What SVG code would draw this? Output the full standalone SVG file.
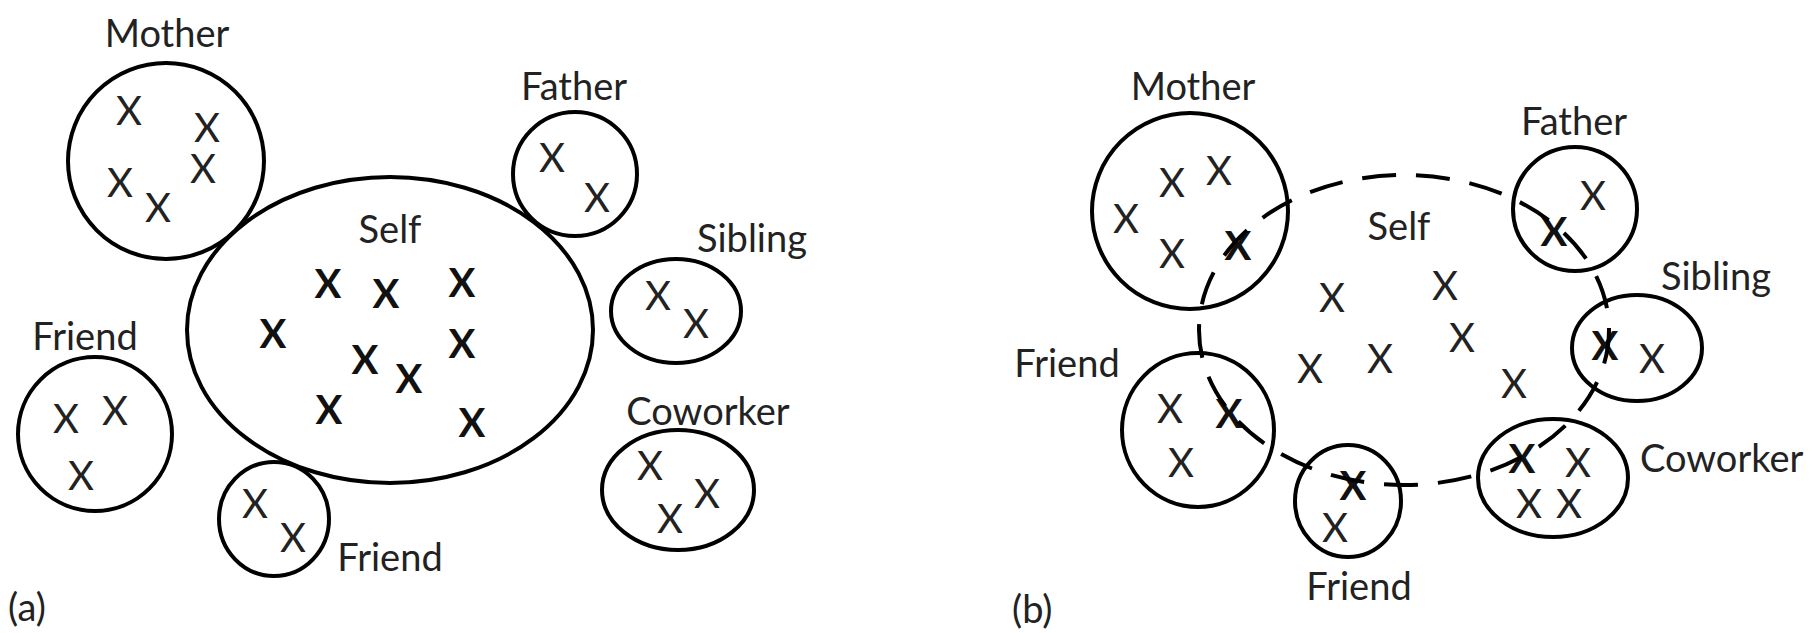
<svg xmlns="http://www.w3.org/2000/svg" width="1814" height="633" viewBox="0 0 1814 633">
<style>
.c{fill:none;stroke:#000;stroke-width:4}
.d{fill:none;stroke:#000;stroke-width:4;stroke-dasharray:34 20}
.l{font-family:Lato,"Open Sans",sans-serif;font-size:38px;fill:#222;text-anchor:middle}
.x{font-family:Lato,"Open Sans",sans-serif;font-size:40px;fill:#222;text-anchor:middle}
.b{font-family:Lato,"Open Sans",sans-serif;font-size:40px;font-weight:bold;fill:#111;text-anchor:middle}
</style>
<rect width="1814" height="633" fill="#fff"/>
<g id="panel-a">
<g id="a-self">
<ellipse class="c" cx="390" cy="330" rx="203" ry="153"/>
<text class="l" x="390" y="243">Self</text>
<text class="b" x="328" y="298">X</text>
<text class="b" x="386" y="308">X</text>
<text class="b" x="462" y="297">X</text>
<text class="b" x="273" y="348">X</text>
<text class="b" x="365" y="374">X</text>
<text class="b" x="409" y="393">X</text>
<text class="b" x="462" y="358">X</text>
<text class="b" x="329" y="424">X</text>
<text class="b" x="472" y="437">X</text>
</g>
<g id="a-mother">
<circle class="c" cx="166" cy="161" r="98"/>
<text class="l" x="167" y="47">Mother</text>
<text class="x" x="129" y="125">X</text>
<text class="x" x="207" y="142">X</text>
<text class="x" x="203" y="183">X</text>
<text class="x" x="120" y="197">X</text>
<text class="x" x="158" y="222">X</text>
</g>
<g id="a-father">
<circle class="c" cx="575" cy="174" r="62"/>
<text class="l" x="574" y="100">Father</text>
<text class="x" x="552" y="172">X</text>
<text class="x" x="597" y="212">X</text>
</g>
<g id="a-sibling">
<ellipse class="c" cx="676" cy="311" rx="65" ry="52"/>
<text class="l" x="752" y="252">Sibling</text>
<text class="x" x="658" y="310">X</text>
<text class="x" x="696" y="338">X</text>
</g>
<g id="a-coworker">
<ellipse class="c" cx="678" cy="490" rx="76" ry="60"/>
<text class="l" x="708" y="425">Coworker</text>
<text class="x" x="650" y="480">X</text>
<text class="x" x="707" y="508">X</text>
<text class="x" x="670" y="533">X</text>
</g>
<g id="a-friend1">
<circle class="c" cx="95" cy="434" r="77"/>
<text class="l" x="85" y="350">Friend</text>
<text class="x" x="66" y="433">X</text>
<text class="x" x="115" y="425">X</text>
<text class="x" x="81" y="490">X</text>
</g>
<g id="a-friend2">
<ellipse class="c" cx="274" cy="519" rx="55" ry="57"/>
<text class="l" x="390" y="571">Friend</text>
<text class="x" x="255" y="518">X</text>
<text class="x" x="293" y="552">X</text>
</g>
<text class="l" x="8" y="621" style="text-anchor:start">(a)</text>
</g>
<g id="panel-b">
<g id="b-mother">
<circle class="c" cx="1190" cy="211" r="98"/>
<text class="l" x="1193" y="100">Mother</text>
<text class="x" x="1172" y="197">X</text>
<text class="x" x="1219" y="185">X</text>
<text class="x" x="1126" y="233">X</text>
<text class="x" x="1172" y="268">X</text>
<text class="b" x="1238" y="260">X</text>
</g>
<g id="b-father">
<circle class="c" cx="1575" cy="209" r="62"/>
<text class="l" x="1574" y="135">Father</text>
<text class="x" x="1593" y="210">X</text>
<text class="b" x="1554" y="246">X</text>
</g>
<g id="b-sibling">
<ellipse class="c" cx="1637" cy="348" rx="65" ry="53"/>
<text class="l" x="1716" y="290">Sibling</text>
<text class="b" x="1605" y="360">X</text>
<text class="x" x="1652" y="373">X</text>
</g>
<g id="b-coworker">
<ellipse class="c" cx="1553" cy="478" rx="75" ry="59"/>
<text class="l" x="1640" y="472" style="text-anchor:start">Coworker</text>
<text class="b" x="1522" y="473">X</text>
<text class="x" x="1578" y="477">X</text>
<text class="x" x="1529" y="518">X</text>
<text class="x" x="1569" y="518">X</text>
</g>
<g id="b-friend1">
<ellipse class="c" cx="1198" cy="430" rx="76" ry="77"/>
<text class="l" x="1067" y="377">Friend</text>
<text class="x" x="1170" y="423">X</text>
<text class="x" x="1181" y="477">X</text>
<text class="b" x="1229" y="428">X</text>
</g>
<g id="b-friend2">
<ellipse class="c" cx="1348" cy="501" rx="53" ry="56"/>
<text class="l" x="1359" y="600">Friend</text>
<text class="b" x="1353" y="500">X</text>
<text class="x" x="1335" y="542">X</text>
</g>
<g id="b-self">
<ellipse class="d" cx="1404" cy="330" rx="205" ry="155"/>
<text class="l" x="1399" y="240">Self</text>
<text class="x" x="1332" y="312">X</text>
<text class="x" x="1445" y="300">X</text>
<text class="x" x="1462" y="352">X</text>
<text class="x" x="1310" y="383">X</text>
<text class="x" x="1380" y="373">X</text>
<text class="x" x="1514" y="398">X</text>
</g>
<text class="l" x="1012" y="623" style="text-anchor:start">(b)</text>
</g>
</svg>
